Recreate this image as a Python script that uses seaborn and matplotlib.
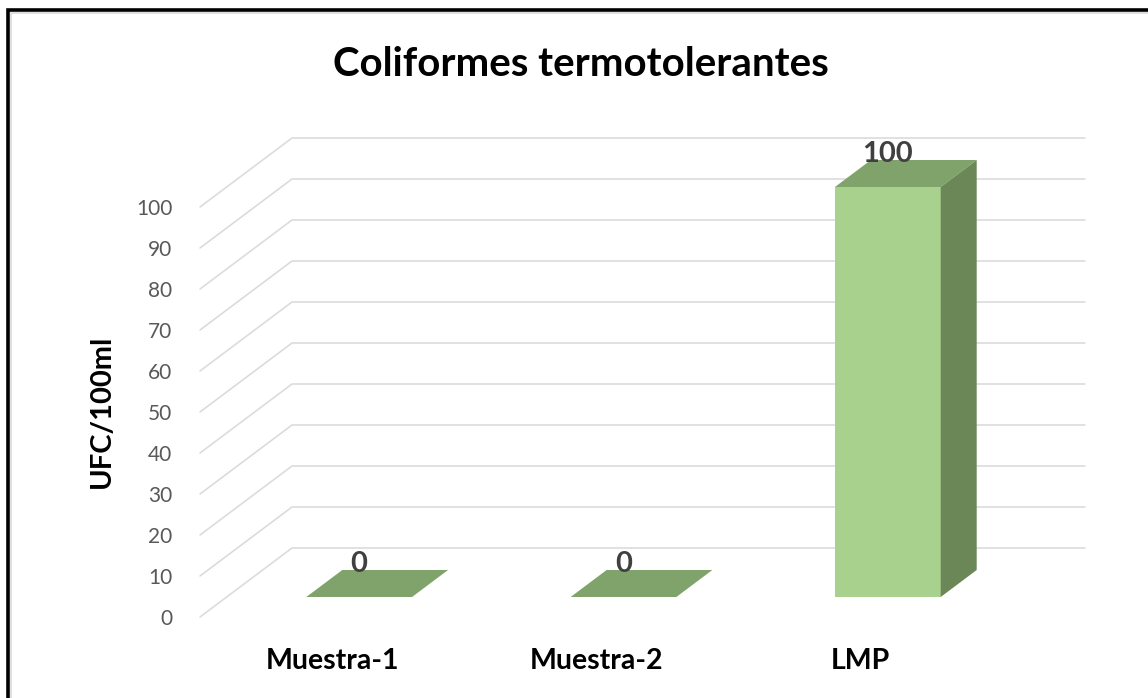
import matplotlib
matplotlib.use("Agg")
import matplotlib.pyplot as plt
import matplotlib.transforms as mtransforms
from matplotlib.patches import Polygon
from matplotlib.lines import Line2D
import seaborn as sns
import pandas as pd

# Data
categories = ["Muestra-1", "Muestra-2", "LMP"]
values = [0, 0, 100]
y_ticks = list(range(0, 101, 10))
title = "Coliformes termotolerantes"
y_label = "UFC/100ml"

# Colours
front_color = "#a9d18e"
top_color = "#80a36b"
side_color = "#6b8757"
grid_color = "#d9d9d9"

sns.set_theme(style="white")
plt.rcParams["font.family"] = ["Lato", "DejaVu Sans"]

W, H = 1148, 698
fig = plt.figure(figsize=(W / 100, H / 100), dpi=100)
fig.patch.set_facecolor("white")

# front plane of the 3D box (pixels)
ax = fig.add_axes([200 / W, 81 / H, 793 / W, 410 / H])
ax.set_facecolor("none")

df = pd.DataFrame({"Categoria": categories, "Valor": values})
sns.barplot(data=df, x="Categoria", y="Valor", width=0.4, color=front_color,
            saturation=1, ax=ax, zorder=3)
ax.set_xlim(-0.5, 2.5)
ax.set_ylim(0, 100)
ax.set_yticks(y_ticks)
ax.set_xlabel("")
ax.set_ylabel("")
for s in ax.spines.values():
    s.set_visible(False)
ax.tick_params(axis="y", length=0, pad=20, labelsize=15, labelcolor="#595959")
ax.tick_params(axis="x", length=0, pad=22, labelsize=20.5)
for lab in ax.get_xticklabels():
    lab.set_fontweight("bold")
    lab.set_color("black")

# depth vectors in pixels
wall_dx, wall_dy = 92, 69
bar_dx, bar_dy = 27, 20
depth_dx, depth_dy = 36, 27

ident = mtransforms.IdentityTransform()
to_disp = ax.transData.transform
x0, x1 = ax.get_xlim()

# back wall gridlines and left wall diagonals
for v in y_ticks:
    fx, fy = to_disp((x0, v))
    rx, ry = to_disp((x1, v))
    ax.add_artist(Line2D([fx, fx + wall_dx, rx + wall_dx],
                         [fy, fy + wall_dy, ry + wall_dy],
                         transform=ident, clip_on=False,
                         color=grid_color, lw=1.1, zorder=1))

# 3D bars
shift = mtransforms.Affine2D().translate(bar_dx, bar_dy)
for p in ax.patches:
    p.set_transform(ax.transData + shift)
    p.set_edgecolor("none")
    p.set_clip_on(False)
    bx, by = p.get_x(), p.get_y()
    bw, bh = p.get_width(), p.get_height()
    (lx, bot), (rx, top) = to_disp([(bx, by), (bx + bw, by + bh)])
    lx += bar_dx; rx += bar_dx; bot += bar_dy; top += bar_dy
    top_face = [(lx, top), (rx, top), (rx + depth_dx, top + depth_dy),
                (lx + depth_dx, top + depth_dy)]
    ax.add_artist(Polygon(top_face, closed=True, facecolor=top_color,
                          edgecolor="none", transform=ident, clip_on=False,
                          zorder=4))
    if top > bot:
        side_face = [(rx, bot), (rx + depth_dx, bot + depth_dy),
                     (rx + depth_dx, top + depth_dy), (rx, top)]
        ax.add_artist(Polygon(side_face, closed=True, facecolor=side_color,
                              edgecolor="none", transform=ident, clip_on=False,
                              zorder=4))

# data labels
for i, v in enumerate(values):
    ax.annotate(f"{v}", xy=(i, v), xytext=(bar_dx * 0.72, (bar_dy + 25) * 0.72),
                textcoords="offset points", ha="center", va="baseline",
                fontsize=21, fontweight="bold", color="#404040",
                annotation_clip=False, zorder=6)

fig.text(581 / W, 1 - 65 / H, title, ha="center", va="center",
         fontsize=29, fontweight="bold", color="black")
fig.text(102 / W, 1 - 411 / H, y_label, ha="center", va="center", rotation=90,
         fontsize=21, fontweight="bold", color="black")

# chart frame
fig.add_artist(Line2D([7.5, 7.5, W], [0, H - 9.5, H - 9.5], transform=ident,
                      color="black", lw=2.6, solid_joinstyle="miter"))
fig.add_artist(Line2D([11, 11, W], [0, H - 12.5, H - 12.5], transform=ident,
                      color=grid_color, lw=1.2))

fig.savefig("out.png", dpi=100)
